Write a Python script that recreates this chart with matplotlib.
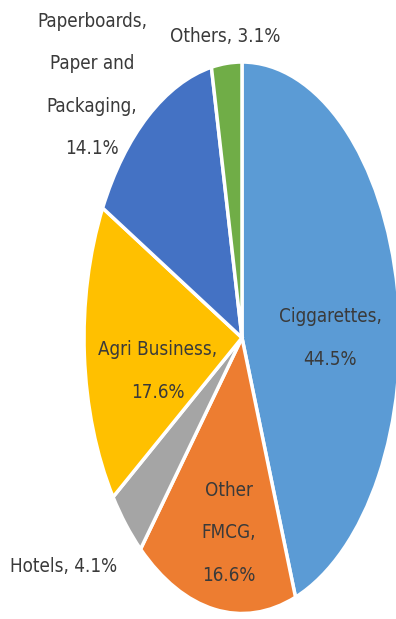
import matplotlib
matplotlib.use("Agg")
import matplotlib.pyplot as plt

segments = ["Ciggarettes", "Other\nFMCG", "Hotels", "Agri Business",
            "Paperboards,\nPaper and\nPackaging", "Others"]
shares = [44.5, 16.6, 4.1, 17.6, 14.1, 3.1]
colors = ["#5B9BD5", "#ED7D31", "#A5A5A5", "#FFC000", "#4472C4", "#70AD47"]

# label anchor points (data coords, pie radius = 1, squashed to an ellipse)
label_xy = [(0.557, -0.001), (-0.082, -0.708), (-1.127, -0.831),
            (-0.532, -0.121), (-0.949, 0.917), (-0.108, 1.091)]
label_sep = [",\n", ",\n", ", ", ",\n", ",\n", ", "]

fig = plt.figure(figsize=(3.96, 6.19), dpi=100)
ax = fig.add_axes([0, 0, 1, 1])
wedges, _ = ax.pie(shares, colors=colors, startangle=90, counterclock=False,
                   wedgeprops=dict(edgecolor="white", linewidth=2.5))
ax.set_aspect("auto")
ax.set_xlim(-1.532, 0.975)
ax.set_ylim(-1.02, 1.225)
ax.axis("off")

for name, val, sep, (x, y) in zip(segments, shares, label_sep, label_xy):
    ax.text(x, y, f"{name}{sep}{val}%", ha="center", va="center",
            family="DejaVu Sans", fontstretch="condensed",
            fontsize=13.5, color="#3a3a3a", linespacing=2.55)

fig.savefig("out.png", dpi=100)
